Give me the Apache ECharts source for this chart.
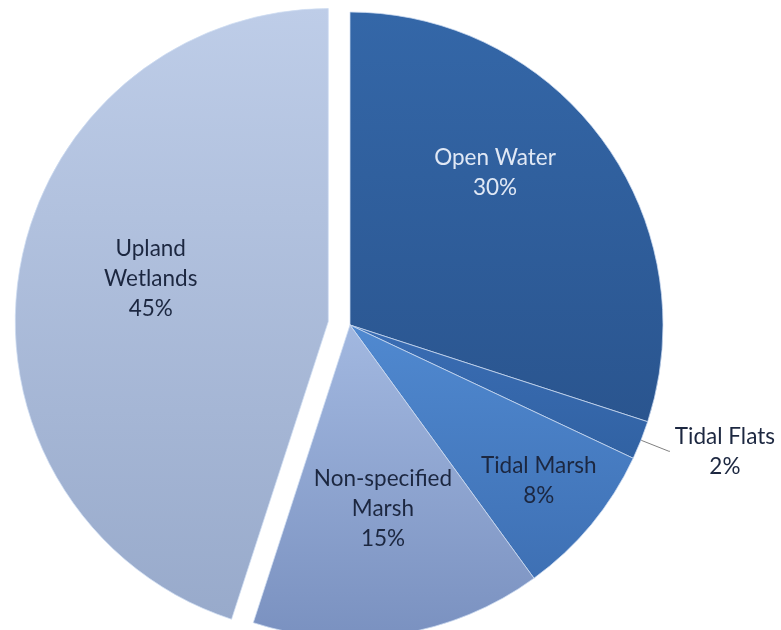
<!DOCTYPE html>
<html>
<head>
<meta charset="utf-8">
<script src="https://cdn.jsdelivr.net/npm/echarts@6/dist/echarts.min.js"></script>
<style>
html,body{margin:0;padding:0;background:#fff;}
#chart{width:781px;height:630px;}
</style>
</head>
<body>
<div id="chart"></div>
<script>
// Data
const categories = ['Open Water', 'Tidal Flats', 'Tidal Marsh', 'Non-specified Marsh', 'Upland Wetlands'];
const labelNames = ['Open Water', 'Tidal Flats', 'Tidal Marsh', 'Non-specified\nMarsh', 'Upland\nWetlands'];
const values = [30, 2, 8, 15, 45];

// Styles (kept separate from data)
const CENTER = [350, 325];
const RADIUS = 313;
const gradients = [
  ['#3467A8', '#2A558F'],
  ['#3A6DB4', '#3162A3'],
  ['#5089D0', '#3E70B4'],
  ['#A2B8E0', '#7A91C0'],
  ['#BECDE8', '#98AACB']
];
const darkText = '#1C2740';
const labelColors = ['#E0E8F5', darkText, darkText, darkText, darkText];
const labelOffsets = [[16, -58], [0, 0], [0, 0], [8, 26], [0, 0]];
const UPLAND_SHIFT = [-20, -18];
const TIDAL_MARSH_LABEL_R = 245; // radial distance of the Tidal Marsh label

const font = 'Lato, "Open Sans", sans-serif';
const FS = 22.5, LH = 30;

function grad(c) {
  return new echarts.graphic.LinearGradient(0, 0, 0, 1, [
    {offset: 0, color: c[0]}, {offset: 1, color: c[1]}
  ]);
}

const total = values.reduce((a, b) => a + b, 0);
// mid-angle (clockwise from top) of each slice, derived from the values
const midAngles = [];
{
  let acc = 0;
  values.forEach(v => { midAngles.push((acc + v / 2) / total * 2 * Math.PI); acc += v; });
}

const data = categories.map((name, i) => {
  const item = {
    name: name,
    value: values[i],
    itemStyle: {color: grad(gradients[i])},
    label: {
      color: labelColors[i],
      offset: labelOffsets[i],
      formatter: labelNames[i] + '\n' + values[i] + '%'
    }
  };
  if (i === 1) {
    item.label = {
      position: 'outside',
      color: darkText,
      formatter: '{a|' + labelNames[i] + '}\n{a|' + values[i] + '%}',
      distanceToLabelLine: 5,
      rich: {a: {width: 100, align: 'center', fontSize: FS, lineHeight: LH, fontFamily: font, color: darkText}}
    };
    item.labelLine = {show: true, length: 30, length2: 1, lineStyle: {color: '#808080', width: 1}};
  }
  if (i === 2) {
    item.label.position = 'outside';
    item.labelLine = {show: false};
  }
  if (i === 4) item.selected = true;
  return item;
});

const chart = echarts.init(document.getElementById('chart'), null, {renderer: 'canvas'});
chart.setOption({
  animation: false,
  series: [{
    type: 'pie',
    center: CENTER,
    radius: RADIUS,
    startAngle: 90,
    clockwise: true,
    selectedMode: 'single',
    selectedOffset: 22,
    avoidLabelOverlap: false,
    itemStyle: {borderColor: 'rgba(205,220,242,0.75)', borderWidth: 1},
    label: {
      show: true,
      position: 'inside',
      fontFamily: font,
      fontSize: FS,
      lineHeight: LH,
      align: 'center'
    },
    labelLine: {show: false},
    labelLayout: function (p) {
      if (p.dataIndex === 2) {
        const a = midAngles[2];
        return {
          x: CENTER[0] + TIDAL_MARSH_LABEL_R * Math.sin(a),
          y: CENTER[1] - TIDAL_MARSH_LABEL_R * Math.cos(a),
          align: 'center',
          verticalAlign: 'middle'
        };
      }
      if (p.dataIndex === 4) {
        return {dx: UPLAND_SHIFT[0], dy: UPLAND_SHIFT[1]};
      }
      return {};
    },
    emphasis: {disabled: true},
    data: data
  }]
});
</script>
</body>
</html>
